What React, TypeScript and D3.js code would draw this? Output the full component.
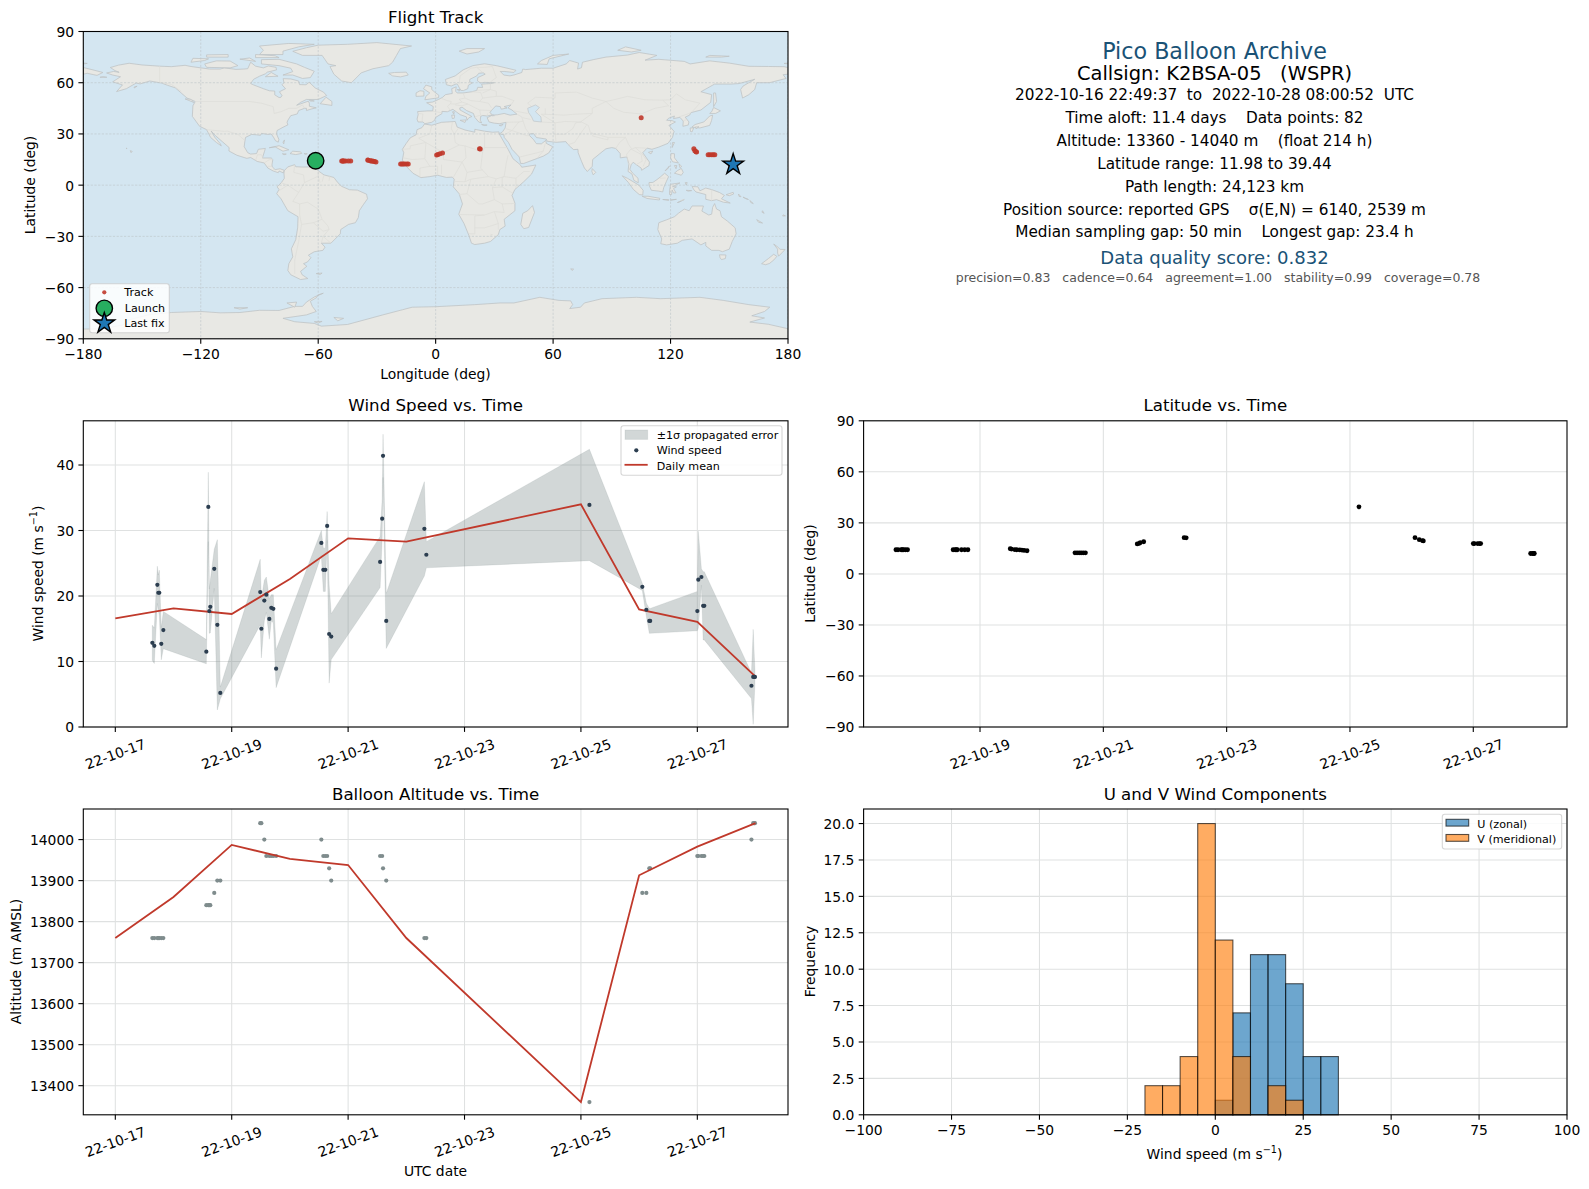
import React from "react";
import * as d3 from "d3";

// ---------- data ----------
const dayOfOct = [17.636,17.67,17.722,17.739,17.756,17.79,17.825,18.564,18.598,18.615,18.632,18.70,18.753,18.804,19.49,19.509,19.56,19.595,19.646,19.68,19.715,19.763,20.54,20.574,20.608,20.64,20.674,20.71,21.55,21.585,21.60,21.655,22.31,22.344,25.146,26.055,26.124,26.175,26.19,27.0,27.017,27.07,27.10,27.12,27.93,27.96,27.98,27.99];
const windSpeed = [12.85,12.4,21.7,20.5,20.5,12.7,14.8,11.5,33.6,17.7,18.35,24.15,15.6,5.2,20.6,15.0,19.3,20.2,16.5,18.2,18.05,8.9,28.1,24.0,24.0,30.7,14.2,13.8,25.2,31.8,41.4,16.2,30.25,26.3,33.9,21.4,17.9,16.2,16.2,17.7,22.5,22.9,18.5,18.5,6.3,7.65,7.65,7.65];
const windSigma = [2.7,2.7,2.85,2.7,3.45,2.45,2.85,1.85,5.3,3.4,4,3,13,0.9,5,4.45,3.1,2.7,3.1,2,2.15,2.9,1.9,3.3,3.3,2.2,7.5,3.5,3.9,3,3.3,4.2,7.2,2,8.5,0.55,1,1.9,1.9,3,7.4,1.25,5.2,5.2,1.95,7.25,3,1];
const altitude = [13760,13760,13760,13760,13760,13760,13760,13840,13840,13840,13840,13870,13900,13900,14040,14040,14000,13960,13960,13960,13960,13960,14000,13960,13960,13960,13930,13900,13960,13960,13930,13900,13760,13760,13360,13870,13870,13930,13930,13960,13960,13960,13960,13960,14000,14040,14040,14040];
const latitude = [14.2,14.2,14.2,14.2,14.2,14.2,14.2,14.2,14.2,14.2,14.2,14.2,14.2,14.2,14.8,14.6,14.3,14.2,14.1,14.0,13.8,13.6,12.4,12.4,12.4,12.4,12.4,12.4,17.6,18.0,18.4,18.9,21.3,21.2,39.44,21.3,20.1,19.6,19.4,17.8,17.8,17.8,17.8,17.8,11.98,11.98,11.98,11.98];
const longitude = [-61.5,-61.2,-61,-60.8,-60.6,-60.3,-60,-48,-47.5,-47.2,-46.9,-46,-44.6,-43.4,-34.7,-34.4,-33.4,-33,-32.4,-31.8,-31.2,-30.5,-17.9,-17.2,-16.6,-15.8,-14.8,-14,0.5,1.2,2.2,3.5,22.4,22.8,105,131.9,132.4,133,133.3,139.2,140,141,141.8,142.6,150.5,151,151.5,152];
const dailyDays = [17,18,19,20,21,22,25,26,27,28];
const dailyWind = [16.6,18.1,17.25,22.6,28.8,28.3,34,17.95,16.05,7.7];
const dailyAlt = [13760,13860,13987,13953,13938,13760,13360,13913,13983,14040];
const histEdges = [-20,-15,-10,-5,0,5,10,15,20,25,30,35];
const histU = [0,0,0,0,1,7,11,11,9,4,4];
const histV = [2,2,4,20,12,4,0,2,1,0,0];
const launchPoint = [-61.3,14.3];
const lastFix = [152,12.1];
const dateTicks = ["22-10-17","22-10-19","22-10-21","22-10-23","22-10-25","22-10-27"];
const dateTickDays = [17,19,21,23,25,27];
const infoLines = [
  "2022-10-16 22:49:37  to  2022-10-28 08:00:52  UTC",
  "Time aloft: 11.4 days    Data points: 82",
  "Altitude: 13360 - 14040 m    (float 214 h)",
  "Latitude range: 11.98 to 39.44",
  "Path length: 24,123 km",
  "Position source: reported GPS    σ(E,N) = 6140, 2539 m",
  "Median sampling gap: 50 min    Longest gap: 23.4 h",
];
const subScores = "precision=0.83   cadence=0.64   agreement=1.00   stability=0.99   coverage=0.78";

// land outlines as lon/lat
const landPolygons: number[][][] = [
  // North America
  [[-168.1,65.7],[-164.5,66.6],[-161.7,66.1],[-163.8,67.1],[-166.2,68.9],[-162,70.3],[-156.6,71.4],[-150,70.4],[-141,69.7],[-135,69.4],[-128,70.2],[-125,69.5],[-115.5,68],[-110,68],[-108,68.7],[-102,67.8],[-98,68],[-96,68.2],[-94.5,72],[-92,69.7],[-88,68.7],[-85.5,69.8],[-81.5,69],[-81.3,67.5],[-86,66.2],[-87,65.2],[-90,63.8],[-93,62],[-94.5,59.5],[-93,58.7],[-88,56.5],[-85,55.3],[-82.2,55.1],[-82.2,52.9],[-80,51.3],[-79,51.5],[-78.5,52.5],[-79.8,54.7],[-76.7,56.5],[-78.5,58.8],[-77.5,60],[-77.9,62.4],[-74,62.2],[-70,61],[-69.5,58.9],[-66.2,58.8],[-64.6,60.3],[-61.5,56.9],[-57.3,54.5],[-55.7,52.5],[-60,50.2],[-66,50.2],[-69,48.5],[-71,46.8],[-65,49.2],[-64.5,47.9],[-64.5,46.2],[-61,45.3],[-63.5,44.6],[-66,43.7],[-66,45],[-67,45],[-70,43.7],[-70.7,41.7],[-74,40.7],[-75.5,38],[-75.9,36.8],[-75.5,35.3],[-78,33.9],[-81,32],[-81.3,30],[-80.1,26.8],[-80.4,25.2],[-81.8,26],[-82.8,28],[-84,30],[-85.5,29.7],[-89,30.3],[-89.5,29.2],[-91.5,29.5],[-94,29.7],[-97.1,28],[-97.5,25.5],[-97.8,22.5],[-96,19],[-94.5,18.2],[-91.5,18.5],[-90.6,21],[-87,21.5],[-87.5,19.5],[-88.2,17],[-88.5,15.9],[-84,15.9],[-83.2,15],[-83.6,12],[-83.5,10.8],[-82,9.1],[-79.5,9.6],[-77.3,8.7],[-77.9,7.2],[-80,8.3],[-80.4,7.3],[-83,8.3],[-85.7,10],[-87.6,13],[-91.2,13.9],[-94.5,16.2],[-96.5,15.7],[-101.5,17.5],[-105.6,20],[-105.5,22],[-109,25.5],[-112.5,29],[-114.7,31.7],[-112.8,28],[-110,24.2],[-109.5,23],[-112,25],[-115,28],[-117,32.5],[-120.6,34.5],[-122.5,37.5],[-124.3,40.3],[-124,46.5],[-122.8,49],[-127,51],[-130.5,54.5],[-133,57],[-137,58.5],[-140,59.8],[-146,61],[-151,59.3],[-153,59.8],[-158,56.5],[-163,54.8],[-160,58.7],[-165,60.5],[-161,63.5],[-165,64.5]],
  // Arctic Canada
  [[-80,73.7],[-71,71],[-67,69],[-62,66.7],[-64,63],[-68,62.5],[-73,64.5],[-78,64.5],[-73,66.5],[-74,68.5],[-80,70],[-89,71],[-89,73.5]],
  [[-117,69],[-105,68.7],[-101,70],[-105,72.7],[-112,72.8],[-118,71]],
  [[-125,72],[-118,73],[-116,74],[-124,74.3]],
  [[-90,76.5],[-78,76.5],[-78,78.5],[-70,81],[-62,82.5],[-75,83],[-90,81.5],[-88,79]],
  [[-92,74.7],[-80,74.7],[-82,75.8],[-92,76.5]],
  [[-117,75],[-106,75],[-106,76.5],[-117,76.3]],
  [[-100,73.8],[-92,72.5],[-95,74.5]],
  [[-87,63.5],[-80.5,63.8],[-84,66]],
  [[-59,47.7],[-53,46.7],[-53,49],[-56,51.5]],
  [[-128,50.5],[-123.5,48.4],[-125,50.3]],
  [[-64.5,49.9],[-62,49.3],[-64,49.2]],
  // Alaska islands
  [[-170,63.5],[-168,63.2],[-171.5,63.2]],[[-154,57.5],[-152.5,58],[-154,56.9]],
  // Greenland
  [[-73,78.4],[-66,80.5],[-60,82],[-45,82.5],[-30,83.5],[-12.3,81.5],[-18,80],[-20,76],[-22,72],[-24,70],[-32,68.2],[-38,65.8],[-43,60],[-48,61],[-52,65],[-54,69.5],[-51,70],[-55,71],[-58,76],[-68,76]],
  // Caribbean & Pacific islands
  [[-85,21.9],[-80,23.1],[-75,20.7],[-78,19.9],[-82,22.4]],
  [[-74.4,18.5],[-73,19.9],[-69,19.5],[-68.4,18.6],[-71.5,17.9]],
  [[-78.3,18.4],[-76.3,18.2],[-77.5,17.8]],[[-67.2,18.5],[-65.6,18.4],[-66.5,18]],
  [[-78,25.2],[-77.2,26.5],[-77.6,24.2]],
  [[-156,20.2],[-155,19.8],[-155.6,19]],[[-158.2,21.6],[-157.7,21.3],[-157.9,21.7]],
  // South America
  [[-77.3,8.5],[-75.5,10.7],[-72,12],[-71.5,10.8],[-68,10.6],[-62,10.7],[-60,8.4],[-57,6],[-52,4.5],[-50,1.5],[-48,-0.7],[-44,-2.7],[-40,-2.9],[-35.3,-5.3],[-34.8,-8],[-37,-11.5],[-39,-15],[-39.5,-19],[-41,-22],[-44.5,-23],[-48.5,-26],[-48.7,-28.5],[-53.5,-34],[-58.4,-34],[-56.5,-36.3],[-57.6,-38.2],[-62,-39],[-65,-41],[-63.7,-42.5],[-65.5,-45],[-67.5,-46],[-65.8,-47.5],[-69,-50.5],[-68.2,-52.5],[-65.3,-54.7],[-69,-55.3],[-74,-52.5],[-75.5,-50],[-75,-46],[-73,-42],[-73.7,-37.3],[-71.5,-32],[-70.5,-25],[-70.3,-18.5],[-75.5,-15],[-79,-8],[-81.2,-5],[-80,-2.5],[-81,-1],[-78.8,1.5],[-77.3,4],[-77.5,7]],
  [[-61,-51.8],[-58,-51.5],[-59,-52.3]],
  // Africa
  [[-5.7,35.8],[-2,35.1],[3,36.8],[10,37.3],[11,34],[15,32.3],[20,31],[20,32.7],[25,31.6],[29,31],[32.3,31.2],[32.5,30],[35.5,24],[37,21],[39.5,15.5],[43.2,12],[44,10.5],[51.2,11.8],[49,6.5],[45,2],[40.5,-2.5],[39,-6],[40.5,-10.5],[40.5,-15],[35,-20],[35.5,-24],[32.8,-26],[32,-29],[28,-33],[25,-34],[20,-34.8],[18.3,-34],[17,-29.5],[14.5,-22.5],[11.8,-17],[13.7,-11],[12,-5],[9,-1],[9.5,3.5],[8.5,4.7],[5.5,4.5],[1,5.8],[-3,5],[-7.5,4.4],[-11.5,6.9],[-13.3,9],[-15,11],[-17,14.7],[-16.3,19],[-17,21],[-15,24.5],[-13,27.7],[-10,29.5],[-9.5,32.5],[-7,33.7]],
  [[49.5,-12],[50.5,-16],[47.5,-24.8],[45,-25.5],[43.5,-23],[44.5,-16.5],[47,-15]],
  // Eurasia
  [[-9,37],[-9.5,38.7],[-8.9,41.5],[-9.2,43.1],[-4,43.5],[-1.5,43.5],[-1.2,46],[-4.6,48.3],[-1.5,48.7],[1.5,50.2],[3.5,51.4],[5,53],[8.5,53.7],[8.2,56.5],[10.5,57.6],[10.2,55],[11,54],[14,54],[18.5,54.7],[21,55.5],[21.5,57.3],[24,57.2],[23.5,59.2],[28,59.5],[30,60],[25,60.2],[22.8,59.9],[21.4,61],[21.5,63],[25.3,65],[24.3,65.8],[22,65.5],[21,64],[17.5,62],[17.3,60.7],[18.8,59.9],[16.7,58.5],[16.4,56.5],[14.2,55.4],[12.8,55.5],[11.2,59],[10.5,59.3],[8,58.1],[5.5,58.8],[5,61.9],[10,64],[14,67.5],[19,70],[25,71.1],[31,70],[41,67.3],[40,66],[35,66.6],[33,66.6],[34.8,64.5],[38,64],[40.5,64.7],[44,66],[44.5,68],[46,67.7],[54,68.5],[60,68.5],[66.7,71],[68.5,73],[73,71.5],[72.5,68],[74.5,68.8],[75,72],[80.5,73.5],[87,75],[98,76.2],[104,77.7],[113,76],[107,73.2],[114,73.7],[127,72.5],[130,71],[140,72.8],[150,71.5],[160,69.6],[170,69.5],[178,69.4],[180,68.9],[180,65],[177.5,64.7],[179,62.5],[170.5,60],[164,60],[163,56],[160,53],[156.8,51],[155.8,56],[157,58],[163,62],[155,59.5],[151,59.2],[142.5,59.2],[135.5,54.7],[141,53],[140.5,48.5],[135.5,44],[130.5,42.5],[129.7,41],[127.5,39.8],[129.4,37],[129,35.2],[126.3,34.5],[126.5,37.5],[124.8,39.7],[121.5,39],[122,40.5],[119,39.2],[118,38],[120.8,37.8],[122.5,37],[119.2,35],[121.8,31.5],[121,28],[118.7,24.5],[114,22.3],[110.5,21],[108,21.7],[105.8,19],[109.2,13.5],[109,11.5],[105.2,8.7],[105,10],[102.5,12],[100.9,13.4],[99.9,12],[99.2,9.3],[100.5,7.2],[103.4,4],[103.5,1.4],[101.3,2.8],[100.3,6.5],[98.3,8],[98.7,12.5],[97.7,16.5],[94.3,16],[94.3,18.5],[92,21.5],[90,22],[87,21.3],[85,19.5],[80.2,15],[80,11],[77.5,8],[76,10],[74.5,14],[72.8,19],[72.7,21],[70.5,20.8],[69,22.3],[67.5,24],[66.5,25.5],[61.5,25.1],[57,25.7],[56.5,27],[51.5,27.9],[50,30.2],[48,30],[48,29],[50,26.7],[51,25],[51.5,24.3],[54,24.2],[56.3,26.2],[56.5,24.5],[59.8,22.5],[57.8,18.9],[55,17],[52,15.7],[45,12.7],[43.4,12.7],[42.7,16.5],[39,21],[37.2,25],[35,28],[34.9,29.5],[32.6,30],[34.2,31.3],[35.5,33.5],[36,36.8],[32.5,36],[30,36.3],[27.3,37],[26.3,39.5],[29,41],[31.5,41.2],[35,42],[38,41],[41.5,41.6],[39,44],[37,45.2],[38.5,47],[35,46],[36.5,45.2],[33.5,44.5],[33,46],[30.7,46.4],[28.7,44],[27.7,42.5],[29,41.2],[26.3,40.5],[24,40.8],[23,40.3],[22.8,38],[23.5,36.5],[22,37],[20,39.7],[19.3,42],[15.8,43.7],[13.5,45.7],[12.3,45.2],[12.5,44],[16,41.8],[18.5,40.2],[17,39.5],[16,38],[15.7,40],[12.5,41.3],[10.5,43],[8.8,44.4],[6,43],[3.2,43.2],[3.2,41.9],[0,39.7],[-0.5,38],[-2,36.8],[-5.5,36],[-6.5,37]],
  [[-180,68.9],[-175,67.5],[-170,66],[-173,64.3],[-178,65.5],[-180,65]],
  // European & Arctic islands
  [[-5.5,50],[1.5,51.2],[1.6,52.7],[-0.2,54.2],[-2,56],[-2,57.6],[-5,58.6],[-6.2,56.5],[-3,54],[-5,52]],
  [[-10,52],[-6,52.2],[-6,55],[-8,55.3],[-10,54]],
  [[-24,65.5],[-22,64],[-18,63.4],[-14,64.5],[-15,66.2],[-21,66]],
  [[12,78.5],[16,76.8],[22,78],[25,80],[16,80]],
  [[52,71],[57,70.7],[58,74],[68,76.8],[60,76],[54,73]],
  [[93,79],[100,78],[105,79],[97,81]],[[138,75],[146,75],[150,75.5],[140,76]],[[178,71.3],[180,71],[180,71.5]],[[-180,71.5],[-178,71.3],[-180,71]],
  [[12.5,38],[15.5,38.2],[15,36.7]],[[8.2,41],[9.7,41],[9.5,39.2],[8.5,39]],[[8.6,43],[9.5,43],[9.3,41.5]],[[23.5,35.5],[26.3,35.2],[24.8,34.9]],[[32.5,35],[34.5,35.6],[33.5,34.7]],[[11,56],[12.5,56],[12,55]],
  // Asia islands
  [[80,9.7],[81.8,7.5],[80.5,6],[79.8,8]],[[108.7,19.2],[110.9,20],[110,18.3]],[[121,25],[122,25],[120.8,22]],
  [[130.9,34],[135,33.5],[140,35],[141,38],[141.5,41],[140,40.5],[137,37],[132.5,35.5]],
  [[130,33.5],[131.8,33.5],[131,31.2],[130.2,31.4]],[[132.5,34],[134.5,34.2],[133,33]],
  [[140,42],[143,42],[145.5,43.5],[142,45.5],[141,43]],
  [[142,46],[143.5,49],[143,54],[142,54],[142,50]],
  [[120.3,18.5],[122,18.4],[122,16],[124,13],[121,13.7],[120,16]],
  [[122,7],[125.5,5.8],[126.5,7.5],[125.5,9.8],[123.5,8.5]],[[122,11.5],[123.2,11.5],[122.8,9.6]],[[124.3,12.5],[125.7,11],[124.8,10.2]],[[117.2,8.4],[119.5,11.3],[118.5,9.5]],
  [[109,1.5],[111,1.6],[113,3.2],[115,5],[117,7],[119,5],[117.8,2],[116.5,-1.5],[116,-4],[114,-3.5],[110.2,-3],[109,0]],
  [[95.3,5.5],[98,4],[103.8,0],[106,-3],[105.8,-5.8],[104,-5.5],[101,-2.5],[98.5,1.5]],
  [[105.5,-6.5],[108.5,-6.5],[114.5,-7.7],[114.3,-8.7],[108,-7.8]],
  [[119.5,-5.5],[119.5,-3],[120,0.5],[124.8,1.3],[121,-0.9],[123,-1],[121.5,-2],[122.8,-4.5],[121.5,-4.6],[120.8,-2.8],[120.5,-5.5]],
  [[127.5,1.5],[128.5,1.5],[128,0]],[[128,-3],[130.8,-3.2],[129,-3.5]],
  [[116,-8.4],[119,-8.4],[119,-9]],[[119.8,-8.6],[123,-8.3],[120,-8.9]],[[123.5,-10.2],[127,-8.4],[124.5,-9.9]],
  [[131,-0.8],[134,-1],[135,-3.3],[138,-1.7],[141,-2.6],[145,-4.3],[147.5,-6],[146,-8],[150.5,-10.5],[147,-10],[143.5,-8.5],[141,-9.1],[138,-8.3],[138,-5.5],[133,-4],[132,-2.8]],
  [[148.4,-5.6],[152,-4.2],[152.2,-5.2],[150,-6.2]],[[154.7,-5.2],[156,-6.8],[155,-6.6]],[[157,-7],[159.8,-8.4],[158.5,-8]],[[160.5,-9],[162.3,-10.8],[161,-10.2]],
  [[164,-20.2],[167,-22.2],[165,-21.8]],[[167,-15],[167.8,-16.5],[166.7,-15.8]],[[177.5,-17.4],[178.7,-18],[177.3,-18.1]],
  // Australasia
  [[114,-22],[113.5,-26],[115.5,-31.5],[115,-34.3],[118,-35],[123.5,-34],[126,-32.3],[131,-31.5],[135.5,-35],[138,-33.5],[138,-35.6],[141,-38.2],[144.7,-38.2],[146.5,-39],[150,-37.5],[151.5,-33],[153.5,-28.5],[153,-25],[149,-21],[146,-18.5],[145.3,-15],[143.5,-14],[142.5,-10.8],[141.5,-13],[141,-17],[139.5,-17.5],[136,-15.2],[136.8,-12.2],[131,-12.2],[129.5,-15],[127,-14],[124,-16.5],[122,-18.5],[118,-20.3]],
  [[145,-40.8],[148.3,-40.9],[148,-43],[146,-43.6],[145.3,-42.5]],
  [[172.7,-34.5],[174.5,-36],[176,-37.6],[178.5,-37.7],[177,-39.5],[175.2,-41.6],[174.7,-39.8],[174.7,-37.5]],
  [[172.7,-40.5],[174.3,-41.7],[172.8,-43.8],[170.5,-45.9],[168.5,-46.6],[166.5,-46],[170,-43]],
  [[69,-49],[70.5,-49.2],[69.7,-50]],
  // Antarctica
  [[-180,-90],[-180,-84.3],[-170,-84.1],[-165,-83],[-160,-82],[-157,-79],[-152,-77.5],[-146,-75.8],[-135,-74.6],[-120,-74],[-110,-74.8],[-100,-74.6],[-90,-73.3],[-80,-73.4],[-72,-71],[-68,-71],[-66,-68.5],[-62,-65.5],[-57.4,-63.3],[-60,-64.3],[-61,-66],[-64,-68],[-63,-71],[-61,-74],[-66,-76],[-78,-78],[-72,-80],[-62,-81],[-58.3,-82.6],[-45,-81.6],[-35,-78.5],[-27,-76],[-17,-73],[-12,-71.5],[0,-71.2],[20,-70],[33,-69],[40,-69],[53.2,-65.7],[63,-67.5],[69,-67.8],[70,-70],[68.5,-72.3],[74,-71.5],[76,-69],[85,-66.5],[102.6,-65.7],[115,-66.5],[135,-65.7],[146.9,-67.5],[160,-70],[170.7,-71.5],[168,-74],[161.5,-76.5],[168,-77.8],[160.5,-80.2],[170,-81.5],[180,-84.1],[180,-90]],
  [[-76,-69],[-71,-68.5],[-72,-71.5]],[[-103,-71.8],[-96,-71.8],[-100,-72.6]],[[-52,-77.5],[-47,-78],[-50,-79.5]],[[-62,-80],[-58,-79.8],[-60,-80.8]],
];
const inlandWaters: number[][][] = [
  [[47,45],[51,47],[53,45.5],[51,43],[53.8,40],[54,37],[50,37.5],[49,40],[47.5,42.5]],
  [[29.5,41],[30,40.7],[29,40.6]],
];
const borderLines: number[][][] = [
  [[-141,69.7],[-141,60.3],[-135,59],[-130,55]],[[-123,49],[-95,49],[-89,48],[-83,46],[-82.5,42],[-79,43],[-75,45],[-71,45],[-68,47],[-67,45]],
  [[-117,32.5],[-108,31.5],[-106.5,31.7],[-101,29.7],[-97.2,25.9]],
  [[-92,14.5],[-91,17.8],[-89,17.8],[-88.2,15.8]],[[-87.6,13],[-85,14.9],[-83.2,15]],[[-85.7,11],[-83.7,11]],[[-82.9,8.3],[-82.6,9.5]],
  [[-72,12],[-72.5,7.5],[-67.5,6],[-67,1.5],[-70,-4.3]],[[-78.8,1.4],[-75.5,0],[-70,-4.3]],[[-80.2,-3.4],[-75.5,0]],[[-70,-4.3],[-73,-9.5],[-69.5,-11],[-69.5,-17.5]],[[-69.5,-11],[-65.5,-10],[-60,-14],[-58,-20]],[[-69.5,-17.5],[-68.5,-23],[-70,-33],[-72,-44],[-72,-52]],[[-68.5,-23],[-62.5,-22],[-58,-20],[-55,-24],[-54.5,-26]],[[-62.5,-22],[-57.5,-27],[-54.5,-26],[-57.5,-30],[-58.4,-34]],[[-57.5,-30],[-53.5,-34]],[[-60,8],[-60,5],[-59,1.5]],[[-67,1.5],[-60.5,5]],[[-57,6],[-58,2]],[[-54,5.5],[-54.5,2.5]],
  [[-2,35],[-3,30],[-8.7,27.5]],[[-17,21],[-13,21.3],[-13,23],[-5,25],[-8.7,27.5]],[[-16.5,16],[-12,15],[-5.5,15.5],[-5,25],[1,21],[4,19],[12,23.5]],[[8.5,36.9],[8,33],[9.5,30],[11.5,33.1]],[[9.5,30],[10,25],[12,23.5],[15,23],[24,19.5],[25,22],[25,31.6]],[[25,22],[37,22]],[[15,23],[15.5,16],[13.5,13.5],[15,10],[16,7.5],[24,9]],[[24,19.5],[23,10],[27,5],[31,3.7],[35,5],[36,12.5],[37,17.5]],[[4,19],[4,15],[13.5,13.5]],[[3,12],[3,6.5]],[[-5.5,15.5],[-3,11],[-8,10],[-8,4.5]],[[-3,11],[1,11],[1,6]],[[9,4.5],[13.5,13.5]],[[16,7.5],[15,2],[9.5,2.2]],[[15,2],[18,3.5],[27,5]],[[18,3.5],[16,-5],[12,-5.5]],[[16,-5],[22,-11],[24,-11],[30,-8.5],[29,-1.5],[31,3.7]],[[29,-1.5],[34,-1],[37.5,-3.5],[39.5,-4.7]],[[34,-1],[34,4.5],[35,5]],[[35,5],[41,4],[45,8],[48,8]],[[41,4],[41,-1.7]],[[30,-8.5],[34,-11],[35,-16],[30,-15.5],[25,-17.5],[12,-17.2]],[[40.5,-10.7],[34,-11]],[[30,-15.5],[32,-22.5],[25,-25]],[[25,-17.5],[20,-18],[20,-28.5],[17,-28.5]],[[32,-22.5],[32,-26]],[[25,-25],[20,-25]],[[27.5,-30],[29,-29],[28,-28.8]],
  [[-1.5,43.3],[3.2,42.4]],[[-8.9,42],[-6.5,41.7],[-7,37.2]],[[2.5,51],[6,49.5],[8,49],[7.5,47.6],[6,46.2],[7.5,43.8]],[[14,54],[15,51],[12,50.3],[13.5,48.7],[10,47.5],[7.5,47.6]],[[10,47],[13.5,46.5],[16.5,47.5],[13.5,48.7]],[[18.5,54.7],[23,54.3],[24,51],[22.5,49],[18,49.5],[15,51]],[[38.5,47],[40,49.5],[34,52],[31,52],[24,51]],[[31,52],[31,55],[28,56],[24,54]],[[28,59.5],[28,56],[21,55.5]],[[22.5,49],[27,48],[28.5,45.3]],[[22.5,44],[28.5,43.7]],[[22.5,44],[19,46],[16.5,47.5]],[[22.5,44],[23,41],[20,40]],[[26.5,42],[26.3,40.5]],[[28,60.5],[31,63],[29,69.5],[25,69],[21,69],[24,66]],[[12,59],[12.5,64],[18,68.5],[21,69]],
  [[36,36.8],[42.5,37],[44.7,37.5],[44,40],[41.5,41.6]],[[44.7,37.5],[46,33],[48,30]],[[39,32],[46.5,29],[48,29]],[[35,29.5],[39,32],[36,33]],[[39,32],[42.5,37]],[[43,16.5],[52,19],[55,20],[52,16]],[[55,20],[56,24.5]],[[47,42],[40,43.5]],[[44.5,39.5],[48.5,38.5]],[[61.5,25],[61,31],[61,36.5],[54,37]],[[61,29.8],[66,29.8],[70,33],[71.5,36.5],[74.5,37]],[[61,36.5],[66,37.3],[74.5,37]],[[68,23.8],[71,25],[74.5,31],[77,35]],[[74.5,37],[78,35],[79,31],[81,30],[88,28],[97,28]],[[81,30],[80,28.8],[88,26.5],[88,28]],[[92,21.5],[94,25],[97,28],[98.5,24],[100,21.5],[97.5,18],[98.5,12]],[[100,21],[105,18],[105.5,14],[102.5,12]],[[102,22],[105,19],[107.5,15],[106,11]],[[102,22],[108,21.6]],[[100,21],[102,22]],[[131,43],[135,48],[127.5,50],[123,53.5],[120,50],[116,49.8],[107,50],[98,52],[91,50],[87,49],[91,45],[96,42.7],[105,41.7],[112,45],[119,46.5],[116,49.8]],[[87,49],[80,51],[72,54.5],[61,54],[61,51],[51,51.5],[47,48],[49,46]],[[87,49],[80,45],[80,42],[74,37]],[[56,45],[56,41.5],[66,41],[70,41.5],[80,42]],[[54,41.5],[61,36.5]],[[56,41.5],[54,41.5]],[[124.3,40],[130.6,42.4]],[[126.7,37.8],[128.5,38.5]],[[114.5,4],[117.5,4.2]],[[141,-2.6],[141,-9.1]],[[125,-9],[127,-8.5]],
];

// ---------- layout ----------
const W = 1589, H = 1189;
const FONT = "'DejaVu Sans', sans-serif";
const TXT = "#000";
const RED = "#c0392b", DARK = "#2c3e50", GREY = "#7f8c8d", GRID = "#dfe1e1";
const mapBox = { l: 83.3, r: 788, t: 31.5, b: 338.8 };
const windBox = { l: 83.3, r: 788, t: 420.8, b: 727 };
const latBox = { l: 863.6, r: 1567, t: 420.8, b: 727 };
const altBox = { l: 83.3, r: 788, t: 809, b: 1114.8 };
const histBox = { l: 863.6, r: 1567, t: 809, b: 1114.8 };

const octDate = (d: number) => new Date(Date.UTC(2022, 9, 1) + (d - 1) * 864e5);
const xWide = d3.scaleUtc().domain([octDate(16.45), octDate(28.558)]).range([windBox.l, windBox.r]);
const xLat = d3.scaleUtc().domain([octDate(17.112), octDate(28.52)]).range([latBox.l, latBox.r]);
const xMap = d3.scaleLinear().domain([-180, 180]).range([mapBox.l, mapBox.r]);
const yMap = d3.scaleLinear().domain([-90, 90]).range([mapBox.b, mapBox.t]);
const yWind = d3.scaleLinear().domain([0, 46.75]).range([windBox.b, windBox.t]);
const yLat = d3.scaleLinear().domain([-90, 90]).range([latBox.b, latBox.t]);
const yAlt = d3.scaleLinear().domain([13329, 14074.6]).range([altBox.b, altBox.t]);
const xHist = d3.scaleLinear().domain([-100, 100]).range([histBox.l, histBox.r]);
const yHist = d3.scaleLinear().domain([0, 21]).range([histBox.b, histBox.t]);

const geoLine = d3.line<number[]>().x((p) => xMap(p[0])).y((p) => yMap(p[1]));
const starPath = d3.symbol(d3.symbolStar, 133)() as string;

type Box = { l: number; r: number; t: number; b: number };

const Grid = ({ box, xs, ys, dash, color = GRID, width = 1.05 }: { box: Box; xs: number[]; ys: number[]; dash?: string; color?: string; width?: number }) => (
  <g stroke={color} strokeWidth={width} strokeDasharray={dash}>
    {xs.map((x, i) => <line key={"x" + i} x1={x} x2={x} y1={box.t} y2={box.b} />)}
    {ys.map((y, i) => <line key={"y" + i} x1={box.l} x2={box.r} y1={y} y2={y} />)}
  </g>
);

const Frame = ({ box }: { box: Box }) => (
  <rect x={box.l} y={box.t} width={box.r - box.l} height={box.b - box.t} fill="none" stroke="#000" strokeWidth={1.1} />
);

const XTicks = ({ box, xs, labels }: { box: Box; xs: number[]; labels: string[] }) => (
  <g fontFamily={FONT} fontSize={13.89} fill={TXT}>
    {xs.map((x, i) => (
      <g key={i}>
        <line x1={x} x2={x} y1={box.b} y2={box.b + 4.9} stroke="#000" strokeWidth={1.1} />
        <text x={x} y={box.b + 20} textAnchor="middle">{labels[i]}</text>
      </g>
    ))}
  </g>
);

const DateTicks = ({ box, x }: { box: Box; x: (d: Date) => number }) => (
  <g fontFamily={FONT} fontSize={13.89} fill={TXT}>
    {dateTickDays.map((d, i) => {
      const px = x(octDate(d));
      if (px < box.l) return null;
      return (
        <g key={i}>
          <line x1={px} x2={px} y1={box.b} y2={box.b + 4.9} stroke="#000" strokeWidth={1.1} />
          <text transform={`translate(${px},${box.b + 27}) rotate(-20)`} textAnchor="middle" dominantBaseline="central">{dateTicks[i]}</text>
        </g>
      );
    })}
  </g>
);

const YTicks = ({ box, ys, labels }: { box: Box; ys: number[]; labels: string[] }) => (
  <g fontFamily={FONT} fontSize={13.89} fill={TXT}>
    {ys.map((y, i) => (
      <g key={i}>
        <line x1={box.l - 4.9} x2={box.l} y1={y} y2={y} stroke="#000" strokeWidth={1.1} />
        <text x={box.l - 9.2} y={y + 0.4} textAnchor="end" dominantBaseline="central">{labels[i]}</text>
      </g>
    ))}
  </g>
);

const Title = ({ box, y, children }: { box: Box; y: number; children: React.ReactNode }) => (
  <text x={(box.l + box.r) / 2} y={y} textAnchor="middle" dominantBaseline="central" fontFamily={FONT} fontSize={16.67} fill={TXT}>{children}</text>
);
const Label = ({ x, y, rotate, children }: { x: number; y: number; rotate?: boolean; children: React.ReactNode }) => (
  <text transform={`translate(${x},${y})${rotate ? " rotate(-90)" : ""}`} textAnchor="middle" dominantBaseline="central" fontFamily={FONT} fontSize={13.89} fill={TXT}>{children}</text>
);
const Unit = () => (
  <>m s<tspan dy={-5} fontSize={9.7}>−1</tspan></>
);
const LegendBox = ({ x, y, w, h, opacity = 0.85 }: { x: number; y: number; w: number; h: number; opacity?: number }) => (
  <rect x={x} y={y} width={w} height={h} rx={2.5} fill="#fff" fillOpacity={opacity} stroke="#cccccc" strokeOpacity={0.8} strokeWidth={1.1} />
);
const LegendText = ({ x, y, children }: { x: number; y: number; children: React.ReactNode }) => (
  <text x={x} y={y} dominantBaseline="central" fontFamily={FONT} fontSize={11.11} fill="#000">{children}</text>
);

const lonTicks = [-180, -120, -60, 0, 60, 120, 180];
const latTicks = [-90, -60, -30, 0, 30, 60, 90];
const windTicks = [0, 10, 20, 30, 40];
const altTicks = [13400, 13500, 13600, 13700, 13800, 13900, 14000];
const histXTicks = [-100, -75, -50, -25, 0, 25, 50, 75, 100];
const histYTicks = [0, 2.5, 5, 7.5, 10, 12.5, 15, 17.5, 20];

const windArea = d3.area<number>()
  .x((i) => xWide(octDate(dayOfOct[i])))
  .y0((i) => yWind(windSpeed[i] - windSigma[i]))
  .y1((i) => yWind(windSpeed[i] + windSigma[i]))(d3.range(dayOfOct.length)) as string;
const windMean = d3.line<number>().x((d) => xWide(octDate(d))).y((_, i) => yWind(dailyWind[i]))(dailyDays) as string;
const altMean = d3.line<number>().x((d) => xWide(octDate(d))).y((_, i) => yAlt(dailyAlt[i]))(dailyDays) as string;

const Bars = ({ counts, fill }: { counts: number[]; fill: string }) => (
  <g>
    {counts.map((c, i) => c > 0 && (
      <rect key={i} x={xHist(histEdges[i])} width={xHist(histEdges[i + 1]) - xHist(histEdges[i])} y={yHist(c)} height={yHist(0) - yHist(c)}
        fill={fill} fillOpacity={0.65} stroke="#000" strokeOpacity={0.65} strokeWidth={1.1} />
    ))}
  </g>
);

export default function App() {
  return (
    <svg width={W} height={H} viewBox={`0 0 ${W} ${H}`} style={{ position: "absolute", left: 0, top: 0, background: "#fff" }}>
      <defs>
        <clipPath id="mapClip"><rect x={mapBox.l} y={mapBox.t} width={mapBox.r - mapBox.l} height={mapBox.b - mapBox.t} /></clipPath>
        <clipPath id="windClip"><rect x={windBox.l} y={windBox.t} width={windBox.r - windBox.l} height={windBox.b - windBox.t} /></clipPath>
      </defs>

      {/* Flight track */}
      <g clipPath="url(#mapClip)">
        <rect x={mapBox.l} y={mapBox.t} width={mapBox.r - mapBox.l} height={mapBox.b - mapBox.t} fill="#d4e6f1" />
        <g fill="#e8e8e4" stroke="#bdc1c3" strokeWidth={0.75} strokeLinejoin="round">
          {landPolygons.map((p, i) => <path key={i} d={geoLine(p) + "Z"} />)}
        </g>
        <g fill="none" stroke="#dcdcd8" strokeWidth={0.7}>
          {borderLines.map((p, i) => <path key={i} d={geoLine(p) as string} />)}
        </g>
        <g fill="#d4e6f1" stroke="#bdc1c3" strokeWidth={0.6}>
          {inlandWaters.map((p, i) => <path key={i} d={geoLine(p) + "Z"} />)}
        </g>
        <Grid box={mapBox} xs={lonTicks.map((v) => xMap(v))} ys={latTicks.map((v) => yMap(v))} dash="2.2 1.5" color="#bcc4c8" width={0.6} />
        <g fill={RED} fillOpacity={0.9}>
          {longitude.map((lon, i) => <circle key={i} cx={xMap(lon)} cy={yMap(latitude[i])} r={2.5} />)}
        </g>
      </g>
      <circle cx={xMap(launchPoint[0])} cy={yMap(launchPoint[1])} r={8.2} fill="#27ae60" stroke="#000" strokeWidth={1.4} />
      <path d={starPath} transform={`translate(${xMap(lastFix[0])},${yMap(lastFix[1])})`} fill="#1f77b4" stroke="#000" strokeWidth={1.4} />
      <LegendBox x={89.7} y={283.7} w={79.6} h={49} />
      <circle cx={104.3} cy={292.3} r={2.1} fill={RED} fillOpacity={0.9} />
      <circle cx={104.3} cy={308.3} r={8.2} fill="#27ae60" stroke="#000" strokeWidth={1.4} />
      <path d={starPath} transform="translate(104.3,323.3)" fill="#1f77b4" stroke="#000" strokeWidth={1.4} />
      <LegendText x={124.3} y={292.3}>Track</LegendText>
      <LegendText x={124.8} y={308.3}>Launch</LegendText>
      <LegendText x={124.3} y={323}>Last fix</LegendText>
      <Frame box={mapBox} />
      <XTicks box={mapBox} xs={lonTicks.map((v) => xMap(v))} labels={lonTicks.map((v) => (v < 0 ? "−" + -v : "" + v))} />
      <YTicks box={mapBox} ys={latTicks.map((v) => yMap(v))} labels={latTicks.map((v) => (v < 0 ? "−" + -v : "" + v))} />
      <Title box={mapBox} y={17.7}>Flight Track</Title>
      <Label x={435.5} y={373.7}>Longitude (deg)</Label>
      <Label x={30.4} y={185} rotate>Latitude (deg)</Label>

      {/* Summary text */}
      <g fontFamily={FONT} textAnchor="middle" dominantBaseline="central">
        <text x={1214.5} y={50.6} fontSize={22.22} fill="#1a5276">Pico Balloon Archive</text>
        <text x={1214.5} y={73} fontSize={19.44} fill="#000" style={{ whiteSpace: "pre" }}>Callsign: K2BSA-05   (WSPR)</text>
        {infoLines.map((t, i) => (
          <text key={i} x={1214.5} y={95 + i * 22.9} fontSize={15.28} fill="#000" style={{ whiteSpace: "pre" }}>{t}</text>
        ))}
        <text x={1214.5} y={257} fontSize={18.06} fill="#1a5276">Data quality score: 0.832</text>
        <text x={1218} y={277.5} fontSize={12.5} fill="#555" style={{ whiteSpace: "pre" }}>{subScores}</text>
      </g>

      {/* Wind speed */}
      <Grid box={windBox} xs={dateTickDays.map((d) => xWide(octDate(d)))} ys={windTicks.map((v) => yWind(v))} />
      <g clipPath="url(#windClip)">
        <path d={windArea} fill={GREY} fillOpacity={0.35} stroke={GREY} strokeOpacity={0.15} strokeWidth={1} />
        <path d={windMean} fill="none" stroke={RED} strokeWidth={1.8} />
        <g fill={DARK}>
          {dayOfOct.map((d, i) => <circle key={i} cx={xWide(octDate(d))} cy={yWind(windSpeed[i])} r={2.1} />)}
        </g>
      </g>
      <LegendBox x={621} y={425.7} w={161} h={49.6} />
      <rect x={625} y={430} width={22.7} height={9.4} fill={GREY} fillOpacity={0.35} stroke={GREY} strokeOpacity={0.15} />
      <circle cx={636.3} cy={450.3} r={2.1} fill={DARK} />
      <line x1={624.5} x2={647.7} y1={464.8} y2={464.8} stroke={RED} strokeWidth={1.8} />
      <LegendText x={656.7} y={435.3}>±1σ propagated error</LegendText>
      <LegendText x={656.7} y={450.3}>Wind speed</LegendText>
      <LegendText x={656.7} y={466}>Daily mean</LegendText>
      <Frame box={windBox} />
      <DateTicks box={windBox} x={xWide} />
      <YTicks box={windBox} ys={windTicks.map((v) => yWind(v))} labels={windTicks.map(String)} />
      <Title box={windBox} y={405.4}>Wind Speed vs. Time</Title>
      <Label x={37.5} y={573.5} rotate>Wind speed (<Unit /><tspan dy={5}>)</tspan></Label>

      {/* Latitude */}
      <Grid box={latBox} xs={dateTickDays.slice(1).map((d) => xLat(octDate(d)))} ys={latTicks.map((v) => yLat(v))} />
      <g fill="#000">
        {dayOfOct.map((d, i) => <circle key={i} cx={xLat(octDate(d))} cy={yLat(latitude[i])} r={2.4} />)}
      </g>
      <Frame box={latBox} />
      <DateTicks box={latBox} x={xLat} />
      <YTicks box={latBox} ys={latTicks.map((v) => yLat(v))} labels={latTicks.map((v) => (v < 0 ? "−" + -v : "" + v))} />
      <Title box={latBox} y={405.4}>Latitude vs. Time</Title>
      <Label x={809.5} y={573.5} rotate>Latitude (deg)</Label>

      {/* Altitude */}
      <Grid box={altBox} xs={dateTickDays.map((d) => xWide(octDate(d)))} ys={altTicks.map((v) => yAlt(v))} />
      <g fill={GREY}>
        {dayOfOct.map((d, i) => <circle key={i} cx={xWide(octDate(d))} cy={yAlt(altitude[i])} r={2.1} />)}
      </g>
      <path d={altMean} fill="none" stroke={RED} strokeWidth={1.8} />
      <Frame box={altBox} />
      <DateTicks box={altBox} x={xWide} />
      <YTicks box={altBox} ys={altTicks.map((v) => yAlt(v))} labels={altTicks.map(String)} />
      <Title box={altBox} y={794.4}>Balloon Altitude vs. Time</Title>
      <Label x={15.5} y={961.5} rotate>Altitude (m AMSL)</Label>
      <Label x={435.5} y={1171}>UTC date</Label>

      {/* Histogram */}
      <Grid box={histBox} xs={histXTicks.map((v) => xHist(v))} ys={histYTicks.map((v) => yHist(v))} />
      <Bars counts={histU} fill="#1f77b4" />
      <Bars counts={histV} fill="#ff7f0e" />
      <LegendBox x={1442.3} y={814.3} w={119.4} h={34.7} />
      <rect x={1446} y={819.3} width={22.7} height={6.8} fill="#1f77b4" fillOpacity={0.65} stroke="#000" strokeOpacity={0.65} strokeWidth={1.1} />
      <rect x={1446} y={834.5} width={22.7} height={6.8} fill="#ff7f0e" fillOpacity={0.65} stroke="#000" strokeOpacity={0.65} strokeWidth={1.1} />
      <LegendText x={1477.3} y={824}>U (zonal)</LegendText>
      <LegendText x={1477.3} y={839}>V (meridional)</LegendText>
      <Frame box={histBox} />
      <XTicks box={histBox} xs={histXTicks.map((v) => xHist(v))} labels={histXTicks.map((v) => (v < 0 ? "−" + -v : "" + v))} />
      <YTicks box={histBox} ys={histYTicks.map((v) => yHist(v))} labels={histYTicks.map((v) => v.toFixed(1))} />
      <Title box={histBox} y={794.4}>U and V Wind Components</Title>
      <Label x={809.5} y={961.5} rotate>Frequency</Label>
      <Label x={1214.5} y={1153.6}>Wind speed (<Unit /><tspan dy={5}>)</tspan></Label>
    </svg>
  );
}
